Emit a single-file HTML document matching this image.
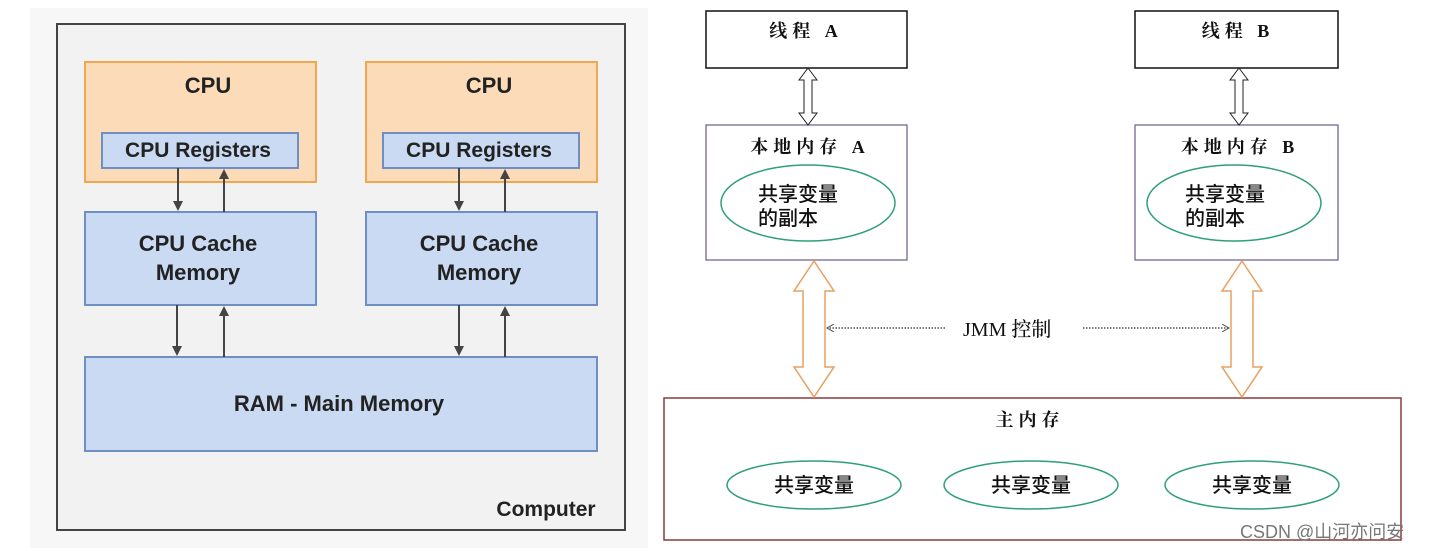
<!DOCTYPE html>
<html><head><meta charset="utf-8"><style>
body{margin:0;width:1436px;height:551px;background:#fff;overflow:hidden}
svg{display:block}
.en{font-family:"Liberation Sans",sans-serif;font-weight:bold;fill:#222}
.zh{font-family:"Liberation Serif","Noto Serif CJK SC",serif;fill:#111;font-weight:bold}
.zs{font-family:"Liberation Sans","Noto Sans CJK SC",sans-serif;fill:#111;font-weight:500}
</style></head><body>
<svg width="1436" height="551" viewBox="0 0 1436 551">
<defs>
<marker id="ah" markerWidth="10" markerHeight="10" refX="5" refY="5" orient="auto" markerUnits="userSpaceOnUse"><path d="M0,0 L10,5 L0,10 z" fill="#444"/></marker>
<marker id="da" markerWidth="8" markerHeight="8" refX="7" refY="4" orient="auto" markerUnits="userSpaceOnUse"><path d="M0,0 L7,4 L0,8" fill="none" stroke="#555" stroke-width="1"/></marker>
</defs>
<rect x="30" y="8" width="618" height="540" fill="#f7f7f7"/>
<rect x="57" y="24" width="568" height="506" fill="#f2f2f2" stroke="#444" stroke-width="2"/>
<g stroke-width="2">
<rect x="85" y="62" width="231" height="120" fill="#fcdcb8" stroke="#f0a850"/>
<rect x="366" y="62" width="231" height="120" fill="#fcdcb8" stroke="#f0a850"/>
<rect x="102" y="133" width="196" height="35" fill="#c9daf2" stroke="#6f8fc4"/>
<rect x="383" y="133" width="196" height="35" fill="#c9daf2" stroke="#6f8fc4"/>
<rect x="85" y="212" width="231" height="93" fill="#c9daf2" stroke="#6f8fc4"/>
<rect x="366" y="212" width="231" height="93" fill="#c9daf2" stroke="#6f8fc4"/>
<rect x="85" y="357" width="512" height="94" fill="#c9daf2" stroke="#6f8fc4"/>
</g>
<g class="en" font-size="22" text-anchor="middle">
<text x="208" y="93">CPU</text><text x="489" y="93">CPU</text>
<text x="198" y="157" font-size="21">CPU Registers</text><text x="479" y="157" font-size="21">CPU Registers</text>
<text x="198" y="251">CPU Cache</text><text x="198" y="280">Memory</text>
<text x="479" y="251">CPU Cache</text><text x="479" y="280">Memory</text>
<text x="339" y="411">RAM - Main Memory</text>
<text x="546" y="516" font-size="21">Computer</text>
</g>
<g stroke="#444" stroke-width="2">
<line x1="178" y1="168" x2="178" y2="206" marker-end="url(#ah)"/>
<line x1="224" y1="212" x2="224" y2="174" marker-end="url(#ah)"/>
<line x1="459" y1="168" x2="459" y2="206" marker-end="url(#ah)"/>
<line x1="505" y1="212" x2="505" y2="174" marker-end="url(#ah)"/>
<line x1="177" y1="305" x2="177" y2="351" marker-end="url(#ah)"/>
<line x1="224" y1="357" x2="224" y2="311" marker-end="url(#ah)"/>
<line x1="459" y1="305" x2="459" y2="351" marker-end="url(#ah)"/>
<line x1="505" y1="357" x2="505" y2="311" marker-end="url(#ah)"/>
</g>
<rect x="706" y="11" width="201" height="57" fill="#fff" stroke="#111" stroke-width="1.5"/>
<rect x="1135" y="11" width="203" height="57" fill="#fff" stroke="#111" stroke-width="1.5"/>
<rect x="706" y="125" width="201" height="135" fill="#fff" stroke="#6a5a8a" stroke-width="1.2"/>
<rect x="1135" y="125" width="203" height="135" fill="#fff" stroke="#6a5a8a" stroke-width="1.2"/>
<rect x="664" y="398" width="737" height="142" fill="#fff" stroke="#8b3a3a" stroke-width="1.5"/>
<g fill="none" stroke="#2f9e7e" stroke-width="1.5">
<ellipse cx="808" cy="203" rx="87" ry="38"/><ellipse cx="1234" cy="203" rx="87" ry="38"/>
<ellipse cx="814" cy="485" rx="87" ry="24"/><ellipse cx="1031" cy="485" rx="87" ry="24"/><ellipse cx="1252" cy="485" rx="87" ry="24"/>
</g>
<g fill="#fff" stroke="#222" stroke-width="1">
<path d="M808,68 L817,80 L812,80 L812,113 L817,113 L808,125 L799,113 L804,113 L804,80 L799,80 z"/>
<path d="M1239,68 L1248,80 L1243,80 L1243,113 L1248,113 L1239,125 L1230,113 L1235,113 L1235,80 L1230,80 z"/>
</g>
<g fill="#fff" stroke="#e8a060" stroke-width="1.5">
<path d="M814,261 L834,291 L825,291 L825,367 L834,367 L814,397 L794,367 L803,367 L803,291 L794,291 z"/>
<path d="M1242,261 L1262,291 L1253,291 L1253,367 L1262,367 L1242,397 L1222,367 L1231,367 L1231,291 L1222,291 z"/>
</g>
<g stroke="#555" stroke-width="1.5" stroke-dasharray="1.5 1.5">
<line x1="945" y1="328" x2="827" y2="328" marker-end="url(#da)"/>
<line x1="1083" y1="328" x2="1229" y2="328" marker-end="url(#da)"/>
</g>
<g class="zh" font-size="18" text-anchor="middle" letter-spacing="5">
<text x="806" y="37">线程 A</text><text x="1238" y="37">线程 B</text>
<text x="810" y="153">本地内存 A</text><text x="1240" y="153">本地内存 B</text>
<text x="1030" y="426">主内存</text>
</g>
<g class="zs" font-size="20">
<text x="758" y="201">共享变量</text><text x="758" y="225">的副本</text>
<text x="1185" y="201">共享变量</text><text x="1185" y="225">的副本</text>
<g text-anchor="middle"><text x="814" y="492">共享变量</text><text x="1031" y="492">共享变量</text><text x="1252" y="492">共享变量</text></g>
<text x="963" y="336" font-size="20" font-family="Liberation Serif,Noto Serif CJK SC,serif">JMM 控制</text>
</g>
<text x="1240" y="538" font-family="Liberation Sans,Noto Sans CJK SC,sans-serif" font-size="18" fill="#777">CSDN @山河亦问安</text>
</svg>
</body></html>
